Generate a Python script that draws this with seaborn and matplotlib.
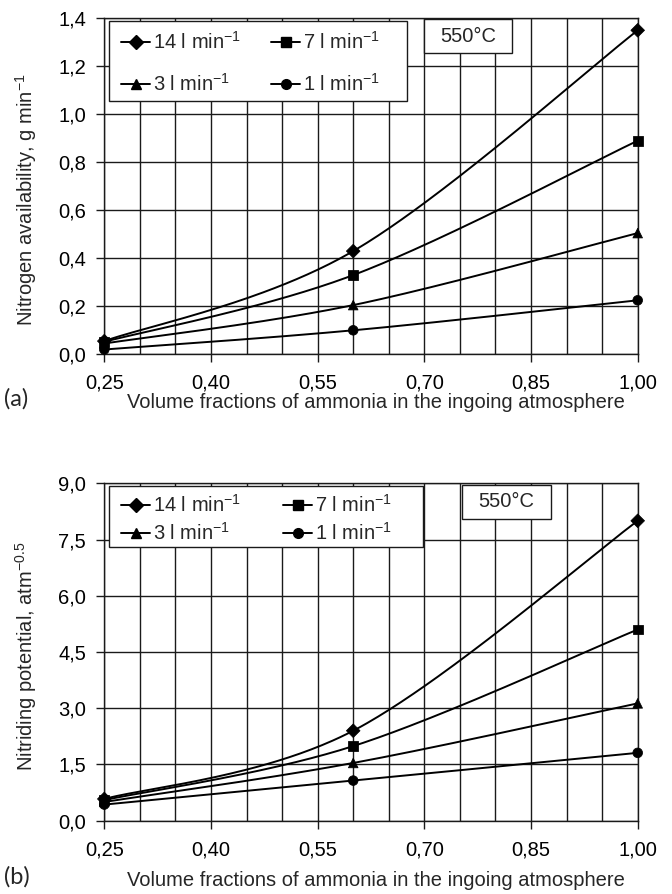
import numpy as np
import pandas as pd
import matplotlib
matplotlib.use("Agg")
import matplotlib.pyplot as plt
import seaborn as sns
from matplotlib.lines import Line2D
from matplotlib.patches import Rectangle
from matplotlib.ticker import MultipleLocator, FuncFormatter

# ---------------- data ----------------
x_fraction = [0.25, 0.60, 1.00]
flow_labels = ["14 l min$^{-1}$", "7 l min$^{-1}$", "3 l min$^{-1}$", "1 l min$^{-1}$"]
flow_markers = ["D", "s", "^", "o"]

availability_14 = [0.055, 0.43, 1.35]
availability_7 = [0.052, 0.33, 0.89]
availability_3 = [0.045, 0.205, 0.505]
availability_1 = [0.02, 0.10, 0.225]

potential_14 = [0.58, 2.40, 8.00]
potential_7 = [0.55, 1.99, 5.10]
potential_3 = [0.50, 1.54, 3.13]
potential_1 = [0.43, 1.07, 1.81]

x_ticks = [0.25, 0.40, 0.55, 0.70, 0.85, 1.00]
ya_ticks = [0.0, 0.2, 0.4, 0.6, 0.8, 1.0, 1.2, 1.4]
yb_ticks = [0.0, 1.5, 3.0, 4.5, 6.0, 7.5, 9.0]

temperature_label = "550°C"
xlabel = "Volume fractions of ammonia in the ingoing atmosphere"
ylabel_a = "Nitrogen availability, g min$^{-1}$"
ylabel_b = "Nitriding potential, atm$^{-0.5}$"

sns.set_theme(style="white")
plt.rcParams["font.family"] = ["Liberation Sans", "DejaVu Sans"]
plt.rcParams["mathtext.fontset"] = "custom"
plt.rcParams["mathtext.rm"] = "Liberation Sans"
plt.rcParams["mathtext.it"] = "Liberation Sans:italic"
plt.rcParams["mathtext.bf"] = "Liberation Sans:bold"

W, H = 672, 894
fig = plt.figure(figsize=(W / 100, H / 100), dpi=100)
FS = 14.5
GRID = "#1a1a1a"


def px_axes(left, top, right, bottom):
    return [left / W, 1 - bottom / H, (right - left) / W, (bottom - top) / H]


def smooth_curve(ax, xs, ys, n=80):
    pts = ax.transData.transform(np.column_stack([xs, ys]))
    P = np.vstack([pts[0], pts, pts[-1]])
    segs = []
    t = np.linspace(0, 1, n)[:, None]
    for i in range(1, len(P) - 2):
        p0, p1, p2, p3 = P[i - 1], P[i], P[i + 1], P[i + 2]
        c1 = p1 + (p2 - p0) / 6
        c2 = p2 - (p3 - p1) / 6
        segs.append((1 - t) ** 3 * p1 + 3 * (1 - t) ** 2 * t * c1
                    + 3 * (1 - t) * t ** 2 * c2 + t ** 3 * p2)
    c = ax.transData.inverted().transform(np.vstack(segs))
    return c[:, 0], c[:, 1]


def comma(v, nd):
    return f"{v:.{nd}f}".replace(".", ",")


def draw_panel(rect, series, yticks, ylim, ylabel, ylab_y, leg_rect, leg_anchor,
               leg_spacing, col_spacing, temp_rect, letter, letter_y):
    ax = fig.add_axes(px_axes(*rect))
    ax.set_xlim(0.25, 1.0)
    ax.set_ylim(*ylim)
    ax.xaxis.set_major_locator(plt.FixedLocator(x_ticks))
    ax.xaxis.set_minor_locator(MultipleLocator(0.05))
    ax.yaxis.set_major_locator(plt.FixedLocator(yticks))
    ax.xaxis.set_major_formatter(FuncFormatter(lambda v, p: comma(v, 2)))
    ax.yaxis.set_major_formatter(FuncFormatter(lambda v, p: comma(v, 1)))
    ax.grid(True, which="minor", axis="x", color=GRID, lw=1.0)
    ax.grid(True, which="major", axis="x", color=GRID, lw=1.0)
    ax.grid(True, which="major", axis="y", color=GRID, lw=1.0)
    ax.tick_params(axis="x", which="major", length=6, width=1.0, color=GRID,
                   direction="out", bottom=True, pad=8, labelsize=FS, labelcolor="black")
    ax.tick_params(axis="x", which="minor", length=0)
    ax.tick_params(axis="y", which="major", length=6, width=1.0, color=GRID,
                   direction="out", left=True, pad=7, labelsize=FS, labelcolor="black")
    for s in ax.spines.values():
        s.set_color(GRID)
        s.set_linewidth(1.0)
    ax.set_axisbelow(True)

    rows = []
    for lab, vals in zip(flow_labels, series):
        for xv, yv in zip(x_fraction, vals):
            rows.append({"fraction": xv, "value": yv, "flow": lab})
        cx, cy = smooth_curve(ax, x_fraction, vals)
        sns.lineplot(x=cx, y=cy, ax=ax, color="black", lw=1.4, sort=False,
                     estimator=None, zorder=3)
    df = pd.DataFrame(rows)
    sns.scatterplot(data=df, x="fraction", y="value", style="flow",
                    markers=dict(zip(flow_labels, flow_markers)),
                    color="black", edgecolor="black", s=48, legend=False,
                    ax=ax, zorder=4, clip_on=False)
    ax.set_xlabel("")
    ax.set_ylabel("")

    ax_w = rect[2] - rect[0]
    ax_h = rect[3] - rect[1]

    def to_ax(px, py):
        return (px - rect[0]) / ax_w, 1 - (py - rect[1]) / ax_h

    # legend frame
    l, t, r, b = leg_rect
    fx, fy = to_ax(l, b)
    ax.add_patch(Rectangle((fx, fy), (r - l) / ax_w, (b - t) / ax_h,
                           transform=ax.transAxes, facecolor="white",
                           edgecolor=GRID, lw=1.0, zorder=5, clip_on=False))
    # legend entries (row 1: 14, 7 ; row 2: 3, 1)
    handles = [Line2D([], [], color="black", lw=1.4, marker=m, markersize=7)
               for m in flow_markers]
    order = [0, 2, 1, 3]
    leg = ax.legend([handles[i] for i in order], [flow_labels[i] for i in order],
                    ncol=2, loc="upper left", bbox_to_anchor=to_ax(*leg_anchor),
                    borderaxespad=0, fontsize=FS, frameon=False,
                    handlelength=1.45, handletextpad=0.12,
                    columnspacing=col_spacing, labelspacing=leg_spacing,
                    borderpad=0)
    leg.set_zorder(6)

    # temperature box
    l, t, r, b = temp_rect
    rx, ry = to_ax(l, b)
    rw = (r - l) / ax_w
    rh = (b - t) / ax_h
    ax.add_patch(Rectangle((rx, ry), rw, rh, transform=ax.transAxes,
                           facecolor="white", edgecolor=GRID, lw=1.0,
                           zorder=6, clip_on=False))
    ax.text(rx + rw / 2, ry + rh / 2, temperature_label, transform=ax.transAxes,
            ha="center", va="center", fontsize=FS, zorder=7)

    fig.text(26 / W, 1 - ylab_y / H, ylabel, rotation=90, ha="center",
             va="center", fontsize=FS)
    fig.text(376 / W, 1 - letter_y / H, xlabel, ha="center", va="center",
             fontsize=FS)
    fig.text(4 / W, 1 - (letter_y - 3) / H, letter, ha="left", va="center",
             fontsize=17, family=["Lato", "DejaVu Sans"])
    return ax


draw_panel((104.3, 18.3, 637.7, 354.3),
           [availability_14, availability_7, availability_3, availability_1],
           ya_ticks, (0, 1.4), ylabel_a, 200,
           (109, 21, 407, 101), (121, 31), 1.0, 1.5,
           (424, 19, 512, 53), "(a)", 402)
draw_panel((104.3, 483.3, 637.7, 820.7),
           [potential_14, potential_7, potential_3, potential_1],
           yb_ticks, (0, 9.0), ylabel_b, 656,
           (109, 485.7, 423, 547), (121, 494), 0.3, 2.1,
           (462, 485, 551, 518.7), "(b)", 880)

fig.savefig("out.png", dpi=100, facecolor="white")
